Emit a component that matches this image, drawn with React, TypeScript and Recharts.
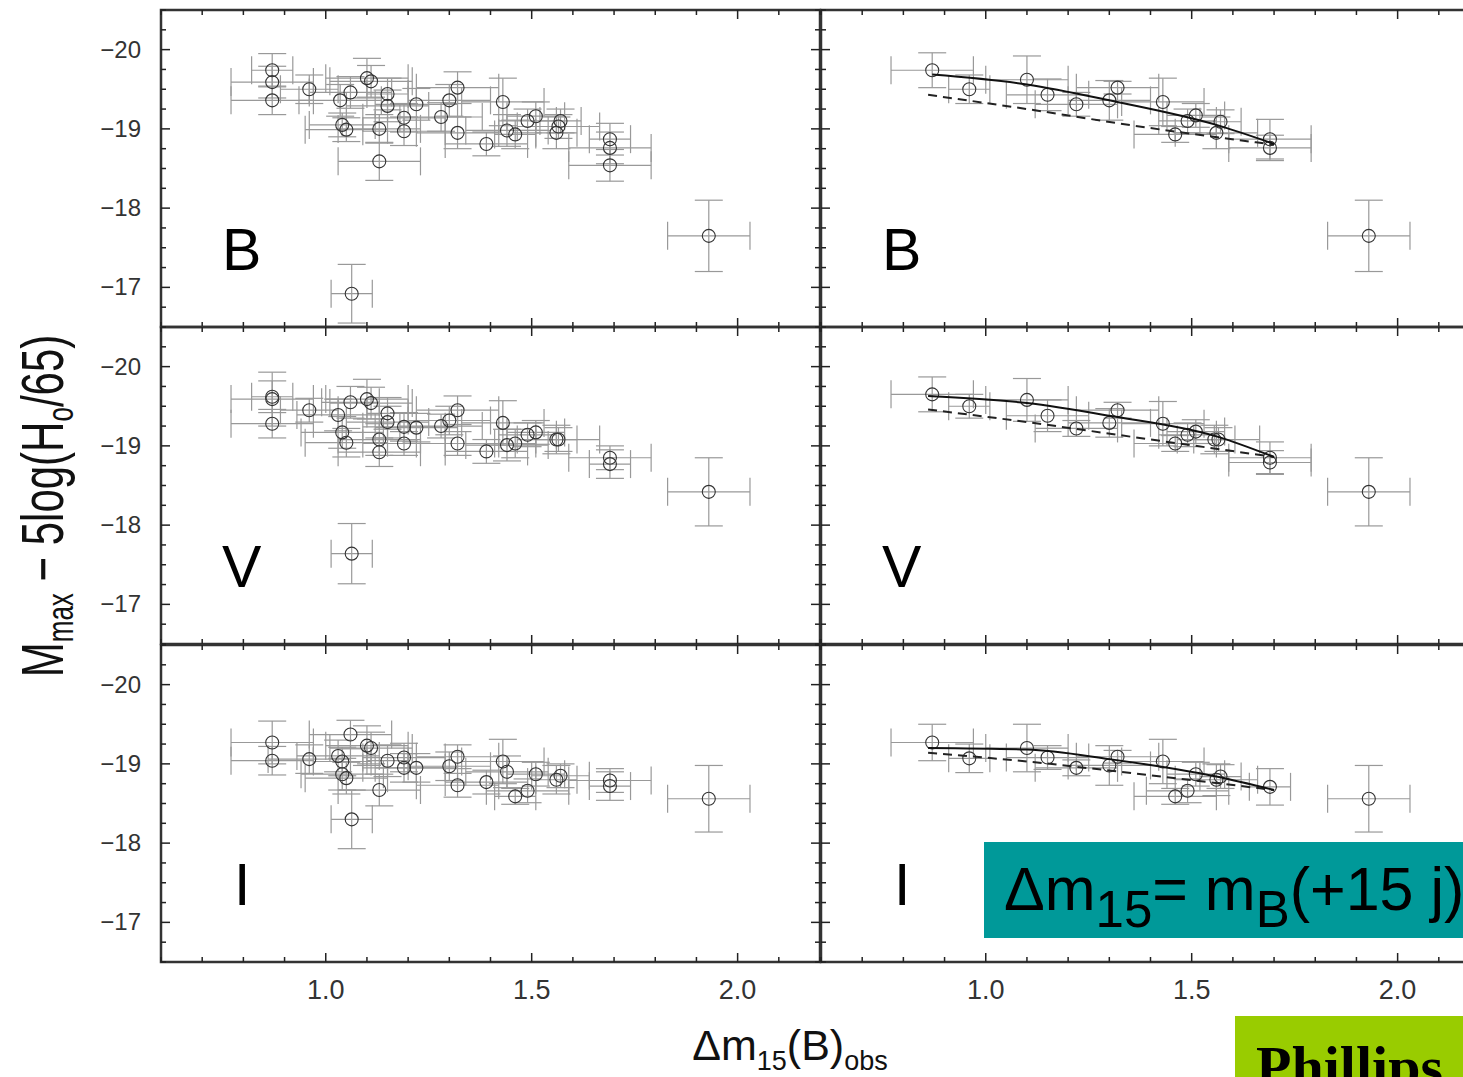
import { ScatterChart, Scatter, XAxis, YAxis, ErrorBar, ReferenceArea } from 'recharts';

// tick positions / labels
const xTicks = [0.6, 0.7, 0.8, 0.9, 1.0, 1.1, 1.2, 1.3, 1.4, 1.5, 1.6, 1.7, 1.8, 1.9, 2.0, 2.1, 2.2];
const yTicks = [-20.5, -20.25, -20, -19.75, -19.5, -19.25, -19, -18.75, -18.5, -18.25, -18, -17.75, -17.5, -17.25, -17, -16.75, -16.5];
const xLabels = [1.0, 1.5, 2.0];
const yLabels = [-20, -19, -18, -17];

// [dm15, M, err dm15, err M] -- full sample (left column)
const bAll = [
  [0.87, -19.74, 0.05, 0.21], [0.87, -19.59, 0.1, 0.2], [0.87, -19.36, 0.1, 0.18], [0.96, -19.5, 0.07, 0.18],
  [1.035, -19.36, 0.1, 0.2], [1.06, -19.46, 0.1, 0.2], [1.04, -19.05, 0.08, 0.15], [1.05, -18.99, 0.1, 0.15],
  [1.1, -19.64, 0.1, 0.25], [1.11, -19.6, 0.1, 0.2], [1.13, -19.0, 0.1, 0.18], [1.13, -18.59, 0.1, 0.24],
  [1.15, -19.44, 0.05, 0.2], [1.15, -19.29, 0.1, 0.2], [1.19, -19.14, 0.1, 0.18], [1.19, -18.97, 0.1, 0.18],
  [1.22, -19.31, 0.1, 0.2], [1.28, -19.15, 0.1, 0.18], [1.3, -19.36, 0.1, 0.2], [1.32, -19.52, 0.1, 0.2],
  [1.32, -18.95, 0.1, 0.2], [1.39, -18.81, 0.1, 0.15], [1.43, -19.34, 0.1, 0.3], [1.44, -18.98, 0.1, 0.2],
  [1.46, -18.93, 0.05, 0.18], [1.49, -19.1, 0.07, 0.15], [1.51, -19.16, 0.07, 0.18], [1.56, -18.95, 0.05, 0.2],
  [1.565, -19.03, 0.1, 0.15], [1.57, -19.1, 0.05, 0.15], [1.69, -18.87, 0.05, 0.2], [1.69, -18.76, 0.1, 0.2],
  [1.69, -18.54, 0.1, 0.2], [1.93, -17.65, 0.1, 0.45], [1.063, -16.92, 0.05, 0.37],
];

const vAll = [
  [0.87, -19.59, 0.1, 0.34], [0.87, -19.62, 0.05, 0.2], [0.87, -19.28, 0.1, 0.18], [0.96, -19.45, 0.07, 0.15],
  [1.03, -19.39, 0.1, 0.2], [1.04, -19.17, 0.1, 0.2], [1.05, -19.04, 0.1, 0.18], [1.06, -19.55, 0.07, 0.2],
  [1.1, -19.59, 0.1, 0.25], [1.11, -19.54, 0.1, 0.2], [1.13, -19.08, 0.1, 0.2], [1.13, -18.92, 0.1, 0.18],
  [1.15, -19.41, 0.05, 0.2], [1.15, -19.3, 0.1, 0.2], [1.19, -19.24, 0.1, 0.18], [1.19, -19.03, 0.1, 0.15],
  [1.22, -19.23, 0.1, 0.18], [1.28, -19.25, 0.1, 0.15], [1.3, -19.32, 0.1, 0.18], [1.32, -19.45, 0.1, 0.18],
  [1.32, -19.03, 0.1, 0.15], [1.39, -18.93, 0.1, 0.15], [1.43, -19.29, 0.1, 0.28], [1.44, -19.01, 0.1, 0.2],
  [1.46, -19.03, 0.05, 0.18], [1.49, -19.14, 0.07, 0.15], [1.51, -19.17, 0.07, 0.15], [1.56, -19.08, 0.05, 0.18],
  [1.565, -19.08, 0.1, 0.15], [1.69, -18.85, 0.1, 0.15], [1.69, -18.77, 0.05, 0.18], [1.93, -18.42, 0.1, 0.43],
  [1.063, -17.64, 0.05, 0.38],
];

const iAll = [
  [0.87, -19.27, 0.1, 0.27], [0.87, -19.04, 0.1, 0.18], [0.96, -19.06, 0.1, 0.18], [1.03, -19.1, 0.1, 0.2],
  [1.04, -19.03, 0.07, 0.18], [1.04, -18.87, 0.1, 0.2], [1.05, -18.82, 0.1, 0.2], [1.06, -19.37, 0.1, 0.18],
  [1.1, -19.23, 0.1, 0.25], [1.11, -19.2, 0.1, 0.2], [1.13, -18.67, 0.1, 0.2], [1.15, -19.04, 0.05, 0.2],
  [1.19, -19.08, 0.1, 0.18], [1.19, -18.95, 0.1, 0.18], [1.22, -18.95, 0.1, 0.18], [1.3, -18.97, 0.1, 0.18],
  [1.32, -19.09, 0.1, 0.15], [1.32, -18.73, 0.1, 0.15], [1.39, -18.77, 0.1, 0.15], [1.43, -19.03, 0.1, 0.28],
  [1.44, -18.9, 0.1, 0.2], [1.46, -18.59, 0.05, 0.1], [1.49, -18.66, 0.1, 0.15], [1.51, -18.87, 0.07, 0.15],
  [1.56, -18.8, 0.05, 0.18], [1.57, -18.85, 0.07, 0.15], [1.69, -18.79, 0.1, 0.15], [1.69, -18.72, 0.05, 0.18],
  [1.93, -18.56, 0.1, 0.42], [1.063, -18.3, 0.05, 0.37],
];

// low-extinction subsample (right column)
const bSub = [
  [0.87, -19.74, 0.1, 0.22], [0.96, -19.5, 0.05, 0.18], [1.1, -19.62, 0.1, 0.3], [1.15, -19.43, 0.1, 0.2],
  [1.22, -19.31, 0.1, 0.15], [1.3, -19.36, 0.1, 0.25], [1.32, -19.52, 0.1, 0.08], [1.43, -19.34, 0.1, 0.3],
  [1.46, -18.93, 0.1, 0.1], [1.49, -19.1, 0.07, 0.15], [1.51, -19.17, 0.07, 0.15], [1.56, -18.95, 0.1, 0.2],
  [1.57, -19.09, 0.05, 0.15], [1.69, -18.87, 0.1, 0.25], [1.69, -18.76, 0.1, 0.16], [1.93, -17.65, 0.1, 0.45],
];

const vSub = [
  [0.87, -19.65, 0.1, 0.22], [0.96, -19.5, 0.05, 0.15], [1.1, -19.58, 0.1, 0.27], [1.15, -19.38, 0.1, 0.2],
  [1.22, -19.22, 0.1, 0.1], [1.3, -19.29, 0.1, 0.18], [1.32, -19.45, 0.1, 0.1], [1.43, -19.28, 0.1, 0.28],
  [1.46, -19.03, 0.1, 0.1], [1.49, -19.14, 0.07, 0.15], [1.51, -19.18, 0.07, 0.15], [1.555, -19.08, 0.05, 0.18],
  [1.565, -19.08, 0.1, 0.15], [1.69, -18.85, 0.1, 0.2], [1.69, -18.79, 0.1, 0.15], [1.93, -18.42, 0.1, 0.43],
];

const iSub = [
  [0.87, -19.27, 0.1, 0.23], [0.96, -19.07, 0.05, 0.18], [1.1, -19.2, 0.1, 0.3], [1.15, -19.08, 0.1, 0.15],
  [1.22, -18.95, 0.1, 0.1], [1.3, -18.98, 0.1, 0.25], [1.32, -19.09, 0.1, 0.08], [1.43, -19.03, 0.1, 0.28],
  [1.46, -18.59, 0.1, 0.1], [1.49, -18.66, 0.1, 0.15], [1.51, -18.87, 0.07, 0.15], [1.56, -18.8, 0.1, 0.2],
  [1.57, -18.84, 0.05, 0.15], [1.69, -18.71, 0.05, 0.23], [1.93, -18.56, 0.1, 0.42],
];

// fitted relations: [dm15, M]
const bSolid = [[0.87, -19.685], [1.1, -19.56], [1.3, -19.36], [1.56, -19.05], [1.7, -18.81]];
const bDashed = [[0.86, -19.43], [1.1, -19.25], [1.36, -19.04], [1.7, -18.8]];
const vSolid = [[0.86, -19.63], [1.1, -19.54], [1.3, -19.38], [1.56, -19.12], [1.7, -18.86]];
const vDashed = [[0.86, -19.46], [1.1, -19.3], [1.36, -19.11], [1.7, -18.86]];
const iSolid = [[0.86, -19.2], [1.1, -19.18], [1.3, -19.06], [1.56, -18.84], [1.7, -18.67]];
const iDashed = [[0.86, -19.14], [1.1, -19.03], [1.36, -18.88], [1.7, -18.67]];

const PLOT_W = 659;
const PLOT_H = 317;
const AXIS_W = 161;
const XAXIS_H = 60;
const plotLefts = [161, 821];
const plotTops = [10, 327, 645];
const FONT = '"Liberation Sans", Arial, Helvetica, sans-serif';

const near = (a: number, b: number) => Math.abs(a - b) < 1e-6;

const XTick = (props: any) => {
  const { x, y, payload, showLabel } = props;
  const v = payload.value;
  const major = xLabels.some((l) => near(l, v));
  const len = major ? 9 : 5;
  return (
    <g>
      <line x1={x} x2={x} y1={y} y2={y - len} stroke="#222" strokeWidth={1.5} />
      <line x1={x} x2={x} y1={y - PLOT_H} y2={y - PLOT_H + len} stroke="#222" strokeWidth={1.5} />
      {showLabel && major && (
        <text x={x} y={y + 37} textAnchor="middle" fontSize={27} fontFamily={FONT} fill="#333">
          {v.toFixed(1)}
        </text>
      )}
    </g>
  );
};

const YTick = (props: any) => {
  const { x, y, payload, showLabel } = props;
  const v = payload.value;
  const major = yLabels.some((l) => near(l, v));
  const len = major ? 9 : 5;
  return (
    <g>
      <line x1={x} x2={x + len} y1={y} y2={y} stroke="#222" strokeWidth={1.5} />
      <line x1={x + PLOT_W} x2={x + PLOT_W - len} y1={y} y2={y} stroke="#222" strokeWidth={1.5} />
      {showLabel && major && (
        <text x={x - 20} y={y + 8} textAnchor="end" fontSize={24} fontFamily={FONT} fill="#333">
          {'\u2212' + Math.abs(v)}
        </text>
      )}
    </g>
  );
};

const Ring = (p: any) => <circle cx={p.cx} cy={p.cy} r={6.5} fill="none" stroke="#333" strokeWidth={1.1} />;
const NoDot = () => <g />;

const toPoints = (rows: number[][]) => rows.map(([x, y, ex, ey]) => ({ x, y, ex, ey }));
const toLine = (rows: number[][]) => rows.map(([x, y]) => ({ x, y }));

type PanelProps = { row: number; col: number; pts: number[][]; solid?: number[][]; dashed?: number[][] };

const Panel = ({ row, col, pts, solid, dashed }: PanelProps) => {
  const showY = col === 0;
  const showX = row === 2;
  return (
    <div style={{ position: 'absolute', left: plotLefts[col] - AXIS_W, top: plotTops[row] - 10 }}>
      <ScatterChart
        width={AXIS_W + PLOT_W + 10}
        height={10 + PLOT_H + XAXIS_H}
        margin={{ top: 10, right: 10, bottom: 0, left: 0 }}
      >
        <XAxis
          type="number"
          dataKey="x"
          domain={[0.6, 2.2]}
          ticks={xTicks}
          interval={0}
          allowDataOverflow
          axisLine={false}
          tickLine={false}
          tickSize={0}
          tickMargin={0}
          height={XAXIS_H}
          tick={(p: any) => <XTick {...p} showLabel={showX} />}
        />
        <YAxis
          type="number"
          dataKey="y"
          domain={[-20.5, -16.5]}
          reversed
          ticks={yTicks}
          interval={0}
          allowDataOverflow
          axisLine={false}
          tickLine={false}
          tickSize={0}
          tickMargin={0}
          width={AXIS_W}
          tick={(p: any) => <YTick {...p} showLabel={showY} />}
        />
        <ReferenceArea x1={0.6} x2={2.2} y1={-20.5} y2={-16.5} fill="none" fillOpacity={0} stroke="#333" strokeWidth={2.5} />
        <Scatter data={toPoints(pts)} shape={Ring} isAnimationActive={false}>
          <ErrorBar dataKey="ex" direction="x" width={14} stroke="#999" strokeWidth={1.2} />
          <ErrorBar dataKey="ey" direction="y" width={14} stroke="#999" strokeWidth={1.2} />
        </Scatter>
        {dashed && (
          <Scatter
            data={toLine(dashed)}
            shape={NoDot}
            line={{ stroke: '#222', strokeWidth: 2, strokeDasharray: '9 6' }}
            lineJointType="monotoneX"
            isAnimationActive={false}
          />
        )}
        {solid && (
          <Scatter
            data={toLine(solid)}
            shape={NoDot}
            line={{ stroke: '#111', strokeWidth: 2 }}
            lineJointType="monotoneX"
            isAnimationActive={false}
          />
        )}
      </ScatterChart>
    </div>
  );
};

const bands = ['B', 'V', 'I'];
const letterDx = [61, 61, 73];

export default function App() {
  return (
    <div
      style={{
        position: 'absolute',
        left: 0,
        top: 0,
        width: 1463,
        height: 1077,
        overflow: 'hidden',
        background: '#fff',
      }}
    >
      <Panel row={0} col={0} pts={bAll} />
      <Panel row={1} col={0} pts={vAll} />
      <Panel row={2} col={0} pts={iAll} />
      <Panel row={0} col={1} pts={bSub} solid={bSolid} dashed={bDashed} />
      <Panel row={1} col={1} pts={vSub} solid={vSolid} dashed={vDashed} />
      <Panel row={2} col={1} pts={iSub} solid={iSolid} dashed={iDashed} />
      <svg width={1463} height={1077} style={{ position: 'absolute', left: 0, top: 0, pointerEvents: 'none' }}>
        {bands.map((b, r) =>
          plotLefts.map((pl) => (
            <text key={b + pl} x={pl + letterDx[r]} y={plotTops[r] + 260} fontSize={59} fontFamily={FONT} fill="#000">
              {b}
            </text>
          ))
        )}
        <text
          transform="translate(63,506) rotate(-90) scale(1,1.4)"
          textAnchor="middle"
          fontSize={42}
          fontFamily={FONT}
          fill="#111"
        >
          M
          <tspan fontSize={26} dy={7}>max</tspan>
          <tspan dy={-7}> {'\u2212'} 5log(H</tspan>
          <tspan fontSize={26} dy={7}>o</tspan>
          <tspan dy={-7}>/65)</tspan>
        </text>
        <text x={790} y={1060} textAnchor="middle" fontSize={43} fontFamily={FONT} fill="#111">
          Δm
          <tspan fontSize={27} dy={10}>15</tspan>
          <tspan dy={-10}>(B)</tspan>
          <tspan fontSize={27} dy={10}>obs</tspan>
        </text>
        <rect x={984} y={842} width={500} height={96} fill="#009999" />
        <text x={1004} y={910} fontSize={61} fontFamily={FONT} fill="#000">
          Δm
          <tspan fontSize={51} dy={17}>15</tspan>
          <tspan dy={-17}>= m</tspan>
          <tspan fontSize={51} dy={17}>B</tspan>
          <tspan dy={-17}>(+15 j)</tspan>
        </text>
        <rect x={1235} y={1016} width={250} height={70} fill="#99cc00" />
        <text
          x={1256}
          y={1086}
          fontSize={58}
          fontWeight="bold"
          fontFamily='"Liberation Serif", "Times New Roman", serif'
          fill="#000"
        >
          Phillips
        </text>
      </svg>
    </div>
  );
}
